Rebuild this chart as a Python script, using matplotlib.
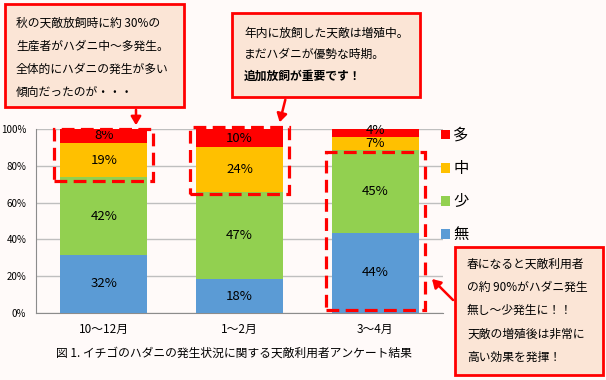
import matplotlib
matplotlib.use("Agg")
import matplotlib.pyplot as plt
import numpy as np
from matplotlib.patches import Rectangle, FancyArrowPatch

plt.rcParams['font.family'] = ['Noto Sans CJK JP', 'DejaVu Sans']

# data
periods = ["10～12月", "1～2月", "3～4月"]
levels = ["無", "少", "中", "多"]
none_pct = [31.6, 18.4, 43.6]
few_pct = [42.1, 47.3, 44.8]
mid_pct = [18.7, 24.3, 7.4]
many_pct = [7.6, 10.0, 4.2]
colors = ["#5b9bd5", "#92d050", "#ffc000", "#ff0000"]

caption = "図 1. イチゴのハダニの発生状況に関する天敵利用者アンケート結果"
note1 = ["秋の天敵放飼時に約 30%の", "生産者がハダニ中～多発生。",
         "全体的にハダニの発生が多い", "傾向だったのが・・・"]
note2 = ["年内に放飼した天敵は増殖中。", "まだハダニが優勢な時期。", "追加放飼が重要です！"]
note3 = ["春になると天敵利用者", "の約 90%がハダニ発生", "無し～少発生に！！",
         "天敵の増殖後は非常に", "高い効果を発揮！"]

W, H = 606, 380
bg = "#fffaf9"
fig = plt.figure(figsize=(W / 100, H / 100), dpi=100, facecolor=bg)
ax = fig.add_axes([36 / W, 1 - 313 / H, 407 / W, 184 / H])
ax.set_facecolor(bg)


def px(x, y):
    return (x / W, 1 - y / H)


series = [none_pct, few_pct, mid_pct, many_pct]
x = np.arange(len(periods))
bw = 0.64
bottom = np.zeros(len(periods))
bars = []
for vals, col, lab in zip(series, colors, levels):
    b = ax.bar(x, vals, bw, bottom=bottom, color=col, label=lab, zorder=3)
    bars.append(b)
    for xi, v, b0 in zip(x, vals, bottom):
        yy = b0 + v / 2
        if v < 5:
            yy = b0 + v * 0.75
        ax.text(xi, yy, f"{round(v)}%", ha="center", va="center", fontsize=9.5, zorder=5)
    bottom = bottom + np.array(vals)

ax.set_xlim(-0.5, 2.5)
ax.set_ylim(0, 100)
ax.set_yticks(np.arange(0, 101, 20))
ax.set_yticklabels([f"{v}%" for v in range(0, 101, 20)], fontsize=7)
ax.set_xticks(x)
ax.set_xticklabels(periods, fontsize=8.5)
ax.tick_params(length=0, pad=7)
ax.tick_params(axis="x", pad=7)
ax.grid(axis="y", color="#bfbfbf", lw=1, zorder=0)
for s in ["top", "right"]:
    ax.spines[s].set_visible(False)
for s in ["left", "bottom"]:
    ax.spines[s].set_color("#8c8c8c")

# dashed highlight frames derived from cumulative stack
cum = np.cumsum(np.array(series), axis=0)
frames = [(0, cum[1][0] - 1.8, 100), (1, cum[1][1] - 1.0, 101), (2, 1.6, cum[1][2] - 0.7)]
for xi, y0, y1 in frames:
    ax.add_patch(Rectangle((xi - 0.365, y0), 0.73, y1 - y0, fill=False, ec="#ff0000",
                           lw=2.3, ls=(0, (4, 2)), zorder=6, clip_on=False))

# legend
handles = [b.patches[0] for b in bars][::-1]
leg = fig.legend(handles, levels[::-1], loc="upper left", bbox_to_anchor=px(441, 127),
                 frameon=False, fontsize=11, handlelength=0.6, handleheight=0.6,
                 handletextpad=0.2, labelspacing=1.05, borderaxespad=0, borderpad=0)

# note boxes
def note(x0, y0, x1, y1, lines, tx, ty, dy, bold_last=False):
    fig.add_artist(Rectangle(px(x0, y1), (x1 - x0) / W, (y1 - y0) / H,
                             transform=fig.transFigure, fc="#fbe5d6", ec="#ff0000", lw=2))
    for i, t in enumerate(lines):
        fw = "bold" if (bold_last and i == len(lines) - 1) else "normal"
        fig.text(*px(tx, ty + i * dy), t, fontsize=8.5, va="center", ha="left", fontweight=fw)


note(5, 4, 184, 107, note1, 16, 23, 23.3)
note(232, 13, 420, 97, note2, 244, 33, 21.5, bold_last=True)
note(455, 247, 603, 375, note3, 467, 264, 23.3)

for p0, p1 in [((136, 107), (136, 128)), ((286, 97), (279, 125)), ((455, 302), (430, 277))]:
    fig.add_artist(FancyArrowPatch(px(*p0), px(*p1), transform=fig.transFigure,
                                   arrowstyle="-|>,head_length=5,head_width=3",
                                   color="#ff0000", lw=1.8))

fig.text(*px(234, 353), caption, fontsize=8.5, ha="center", va="center")

fig.savefig("out.png", dpi=100, facecolor=bg)
